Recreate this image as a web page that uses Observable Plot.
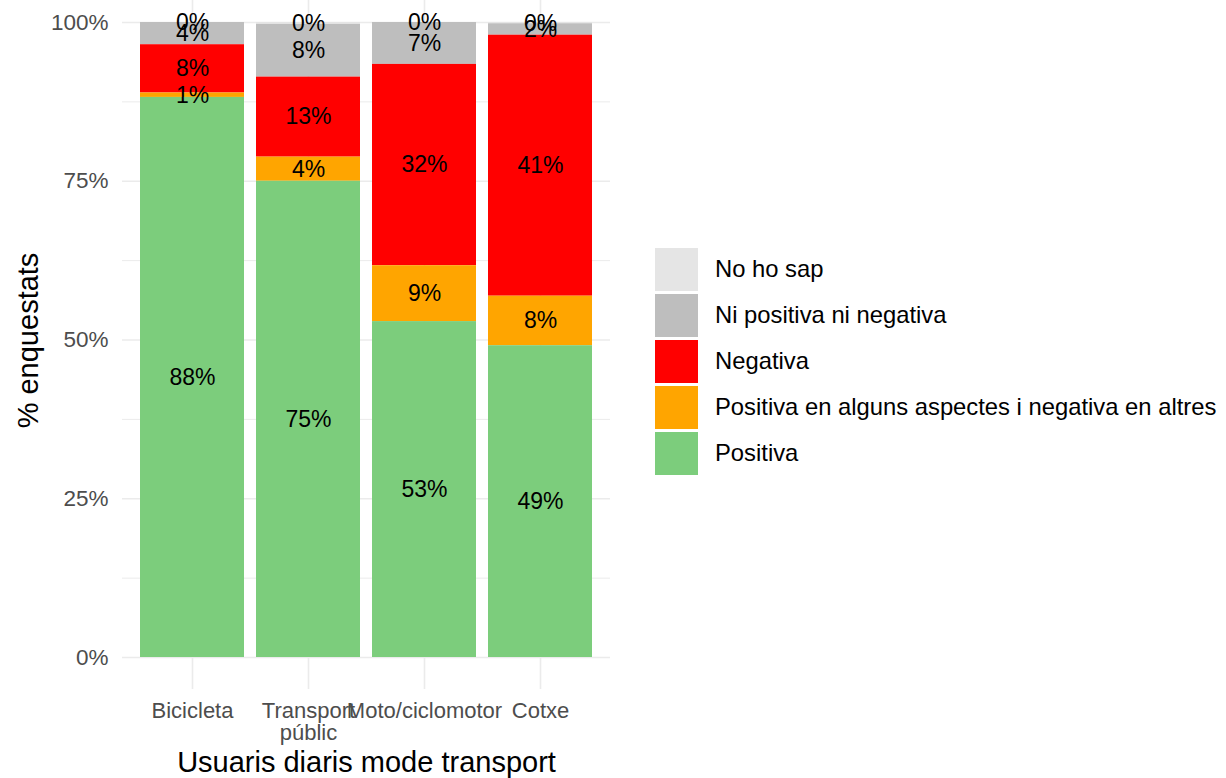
<!DOCTYPE html>
<html>
<head>
<meta charset="utf-8">
<script src="https://cdn.jsdelivr.net/npm/d3@7"></script>
<script src="https://cdn.jsdelivr.net/npm/@observablehq/plot@0.6"></script>
<style>
  html, body { margin: 0; padding: 0; background: #fff; }
  #wrap { position: relative; width: 1226px; height: 778px; font-family: "Liberation Sans", Arial, Helvetica, sans-serif; }
  #legend { position: absolute; left: 655px; top: 246px; }
  .row { position: relative; height: 46px; }
  .sw { position: absolute; left: 0; top: 1.5px; width: 43px; height: 43px; }
  .lab { position: absolute; left: 60px; top: 0; height: 46px; line-height: 46px; font-size: 23.8px; color: #000; white-space: nowrap; }
</style>
</head>
<body>
<div id="wrap"><div id="chart"></div><div id="legend"></div></div>
<script>
// ---- data ----
const modes = ["Bicicleta", "Transport públic", "Moto/ciclomotor", "Cotxe"];
// legend order (top to bottom)
const responses = ["No ho sap", "Ni positiva ni negativa", "Negativa", "Positiva en alguns aspectes i negativa en altres", "Positiva"];
const colors = ["#E5E5E5", "#BEBEBE", "#FF0000", "#FFA500", "#7CCD7C"];
// percentages per mode (same order as modes)
const noSap    = [0.0, 0.3, 0.0, 0.2];
const niNi     = [3.5, 8.3, 6.6, 1.8];
const negativa = [7.6, 12.6, 31.7, 41.1];
const mixta    = [0.7, 3.8, 8.8, 7.8];
const positiva = [88.2, 75.0, 52.9, 49.1];
const yTicks = [0, 25, 50, 75, 100];
const yMinor = [12.5, 37.5, 62.5, 87.5];

const seriesByResp = {
  "No ho sap": noSap,
  "Ni positiva ni negativa": niNi,
  "Negativa": negativa,
  "Positiva en alguns aspectes i negativa en altres": mixta,
  "Positiva": positiva
};
const data = [];
for (const r of responses) modes.forEach((m, i) => data.push({mode: m, resp: r, value: seriesByResp[r][i]}));
const stackOrder = responses.slice().reverse(); // bottom to top

function wrap(s, w = 10) {
  const words = s.split(" "); const lines = []; let cur = "";
  for (const wd of words) {
    if (cur && (cur + " " + wd).length > w) { lines.push(cur); cur = wd; }
    else cur = cur ? cur + " " + wd : wd;
  }
  lines.push(cur); return lines.join("\n");
}

const font = "'Liberation Sans', Arial, Helvetica, sans-serif";
const plot = Plot.plot({
  width: 1226,
  height: 778,
  marginLeft: 122,
  marginRight: 616,
  marginTop: 0,
  marginBottom: 89,
  style: {fontFamily: font, background: "#fff"},
  x: {type: "band", domain: modes, paddingInner: 0.1, paddingOuter: 0.15},
  y: {domain: [0, 100], range: [657, 22]},
  color: {domain: responses, range: colors},
  marks: [
    Plot.gridY(yMinor, {stroke: "#EBEBEB", strokeOpacity: 1, strokeWidth: 1})
    ,Plot.gridY(yTicks, {stroke: "#EBEBEB", strokeOpacity: 1, strokeWidth: 1.6})
    ,Plot.gridX(modes, {stroke: "#EBEBEB", strokeOpacity: 1, strokeWidth: 1.6})
    ,Plot.barY(data, Plot.stackY({x: "mode", y: "value", fill: "resp", order: stackOrder}))
    ,Plot.text(data, Plot.stackY({x: "mode", y: "value", z: "resp", order: stackOrder,
        text: d => Math.round(d.value) + "%", fontSize: 23, fill: "#000"}))
    ,Plot.axisY(yTicks, {tickSize: 0, tickPadding: 14, tickFormat: d => d + "%", fontSize: 22.5, color: "#4D4D4D", label: null})
    ,Plot.axisX({tickSize: 0, tickPadding: 13, tickFormat: d => wrap(d), fontSize: 22, color: "#4D4D4D", label: null, lineHeight: 1.0})
    ,Plot.text(["% enquestats"], {frameAnchor: "left", textAnchor: "middle", lineAnchor: "middle", dx: -94, dy: -4.5, rotate: -90, fontSize: 29, fill: "#000"})
    ,Plot.text(["Usuaris diaris mode transport"], {frameAnchor: "bottom", textAnchor: "middle", lineAnchor: "middle", dy: 73.5, fontSize: 29, fill: "#000"})
  ]
});
document.getElementById("chart").appendChild(plot);

const leg = document.getElementById("legend");
responses.forEach((r, i) => {
  const row = document.createElement("div"); row.className = "row";
  const sw = document.createElement("div"); sw.className = "sw"; sw.style.background = colors[i];
  const lab = document.createElement("div"); lab.className = "lab"; lab.textContent = r;
  row.appendChild(sw); row.appendChild(lab); leg.appendChild(row);
});
</script>
</body>
</html>
